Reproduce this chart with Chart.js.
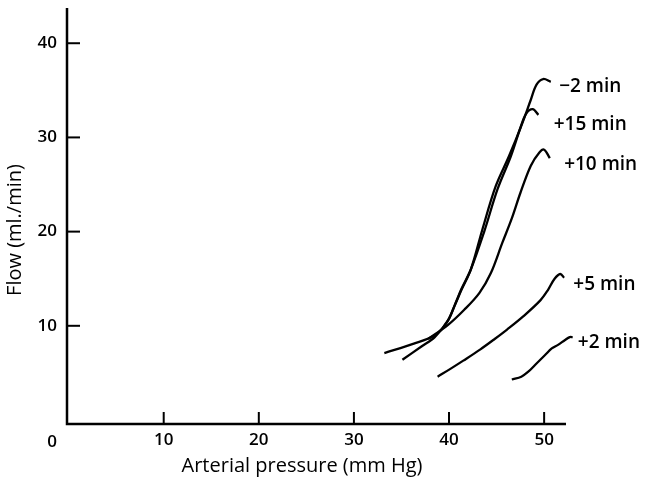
<!DOCTYPE html>
<html><head><meta charset="utf-8">
<script src="https://cdn.jsdelivr.net/npm/chart.js@4/dist/chart.umd.min.js"></script>
<style>html,body{margin:0;padding:0;background:#fff}#wrap{width:645px;height:484px}</style>
</head><body><div id="wrap"><canvas id="c" width="645" height="484"></canvas></div>
<script>
// Tick values
const xTicks = [10, 20, 30, 40, 50];
const yTicks = [10, 20, 30, 40];
const xTitle = 'Arterial pressure (mm Hg)';
const yTitle = 'Flow (ml./min)';
const seriesNames = ['\u22122 min', '+15 min', '+10 min', '+5 min', '+2 min'];

// −2 min
const pMinus2 = [35.1, 37.1, 38.5, 39.9, 40.7, 41.3, 42.3, 43.5, 44.9, 46.3, 47.7, 48.6, 49.2, 49.9, 50.7];
const fMinus2 = [6.4, 7.8, 8.8, 10.6, 12.4, 13.8, 16.0, 20.2, 24.8, 28.0, 31.5, 34.0, 35.6, 36.2, 35.9];
// +15 min
const pPlus15 = [33.2, 36.3, 38.5, 39.8, 40.6, 41.3, 42.3, 43.7, 45.1, 46.5, 47.5, 48.1, 48.8, 49.4];
const fPlus15 = [7.1, 8.1, 9.0, 10.4, 12.2, 13.9, 16.0, 20.0, 24.5, 28.0, 31.0, 32.5, 33.0, 32.4];
// +10 min
const pPlus10 = [37.8, 39.9, 41.6, 43.2, 44.4, 45.6, 46.6, 47.5, 48.6, 49.5, 50.0, 50.6];
const fPlus10 = [8.6, 10.1, 11.7, 13.5, 15.6, 18.8, 21.4, 24.1, 27.0, 28.4, 28.7, 27.8];
// +5 min
const pPlus5 = [38.8, 40.1, 41.5, 43.3, 44.8, 46.1, 47.8, 49.6, 50.4, 51.1, 51.7, 52.1];
const fPlus5 = [4.6, 5.4, 6.3, 7.5, 8.6, 9.6, 11.0, 12.7, 13.8, 15.0, 15.5, 15.1];
// +2 min
const pPlus2 = [46.6, 47.6, 48.3, 49.2, 50.1, 50.8, 51.5, 52.2, 52.7, 53.0];
const fPlus2 = [4.3, 4.6, 5.1, 6.0, 6.9, 7.6, 8.0, 8.5, 8.8, 8.8];

const seriesP = [pMinus2, pPlus15, pPlus10, pPlus5, pPlus2];
const seriesF = [fMinus2, fPlus15, fPlus10, fPlus5, fPlus2];

const FONT = '"Open Sans", Lato, sans-serif';
const labelOffsets = [[16, 8], [21, 15], [20, 15], [13, 11], [8, 5]];

const datasets = seriesP.map((ps, i) => ({
  label: seriesNames[i],
  data: ps.map((p, j) => ({x: p, y: seriesF[i][j]})),
  borderColor: '#000',
  borderWidth: 2.3,
  pointRadius: 0,
  tension: 0.35,
  fill: false,
  clip: false
}));

const decor = {
  id: 'decor',
  afterDraw(chart) {
    const ctx = chart.ctx, xs = chart.scales.x, ys = chart.scales.y;
    const ca = chart.chartArea;
    ctx.save();
    ctx.strokeStyle = '#000';
    ctx.lineWidth = 2.5;
    ctx.lineCap = 'butt';
    const x0 = ca.left, yb = ca.bottom;
    ctx.beginPath();
    ctx.moveTo(x0, ca.top);
    ctx.lineTo(x0, yb);
    ctx.lineTo(xs.getPixelForValue(52.3), yb);
    ctx.stroke();
    ctx.lineWidth = 2;
    xTicks.forEach(v => {
      const px = xs.getPixelForValue(v);
      ctx.beginPath(); ctx.moveTo(px, yb); ctx.lineTo(px, yb - 12); ctx.stroke();
    });
    yTicks.forEach(v => {
      const py = ys.getPixelForValue(v);
      ctx.beginPath(); ctx.moveTo(x0, py); ctx.lineTo(x0 + 13, py); ctx.stroke();
    });
    ctx.fillStyle = '#000';
    ctx.font = '600 17px ' + FONT;
    ctx.textAlign = 'center';
    ctx.textBaseline = 'middle';
    ctx.fillText('0', 52, 442);
    ctx.font = '500 20px ' + FONT;
    ctx.fillText(xTitle, 302, 466);
    ctx.save();
    ctx.translate(15.5, 230);
    ctx.rotate(-Math.PI / 2);
    ctx.fillText(yTitle, 0, 0);
    ctx.restore();
    ctx.font = '600 19px ' + FONT;
    ctx.textAlign = 'left';
    seriesP.forEach((ps, i) => {
      const fs = seriesF[i];
      let k = 0;
      fs.forEach((f, j) => { if (f > fs[k]) k = j; });
      const px = xs.getPixelForValue(ps[k]) + labelOffsets[i][0];
      const py = ys.getPixelForValue(fs[k]) + labelOffsets[i][1];
      ctx.fillText(seriesNames[i], px, py);
    });
    ctx.restore();
  }
};

new Chart(document.getElementById('c'), {
  type: 'line',
  data: {datasets},
  options: {
    responsive: false,
    animation: false,
    devicePixelRatio: 1,
    layout: {padding: {top: 8, right: 5, left: 0, bottom: 0}},
    plugins: {legend: {display: false}, tooltip: {enabled: false}},
    scales: {
      x: {
        type: 'linear', min: -0.168, max: 60.08,
        afterBuildTicks: s => { s.ticks = xTicks.map(v => ({value: v})); },
        afterFit: s => { s.height = 60; s.paddingLeft = 0; s.paddingRight = 0; },
        grid: {display: false, drawTicks: false},
        border: {display: false},
        ticks: {color: '#000', font: {family: FONT, size: 17, weight: '600'}, padding: 6, maxRotation: 0}
      },
      y: {
        type: 'linear', min: -0.425, max: 43.74,
        afterBuildTicks: s => { s.ticks = yTicks.map(v => ({value: v})); },
        afterFit: s => { s.width = 67; s.paddingTop = 0; s.paddingBottom = 0; },
        grid: {display: false, drawTicks: false},
        border: {display: false},
        ticks: {color: '#000', font: {family: FONT, size: 17, weight: '600'}, padding: 10}
      }
    }
  },
  plugins: [decor]
});
</script>
</body></html>
